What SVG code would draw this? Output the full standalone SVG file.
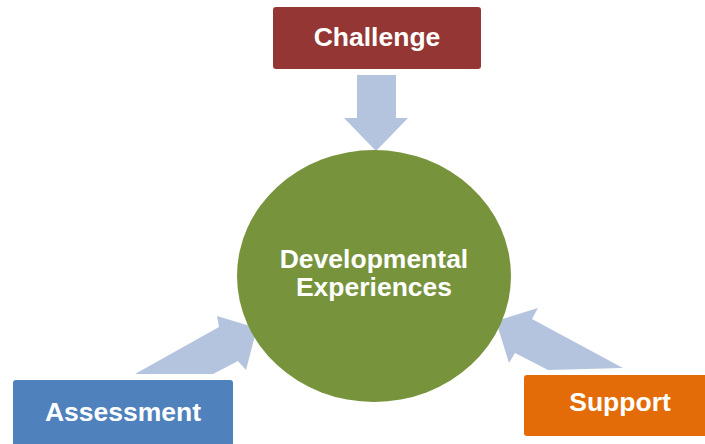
<svg xmlns="http://www.w3.org/2000/svg" width="705" height="444" viewBox="0 0 705 444">
<style>
.lbl{font-family:"Liberation Sans",Arial,sans-serif;font-weight:bold;font-size:26.5px;fill:#ffffff;text-anchor:middle}
.arr{fill:#b4c4de}
</style>
<rect width="705" height="444" fill="#ffffff"/>
<g id="connectors">
<polygon class="arr" points="357,75 396,75 396,118 408,118 376,151 344,118 357,118"/>
<polygon class="arr" points="135,374 219,327 217,316 257,328 246,370 238,361 213,374"/>
<polygon class="arr" points="496,321 538,308 532,319 623,368 548,370 515,353 509,363"/>
</g>
<g id="center">
<ellipse cx="374" cy="276" rx="137" ry="126" fill="#77933c"/>
<text class="lbl"><tspan x="374" y="268">Developmental</tspan><tspan x="374" y="296">Experiences</tspan></text>
</g>
<g id="challenge">
<rect x="273" y="7" width="208" height="62" rx="3" fill="#943634"/>
<text class="lbl" x="377" y="46">Challenge</text>
</g>
<g id="assessment">
<rect x="13" y="380" width="220" height="72" rx="3" fill="#4f81bd"/>
<text class="lbl" x="123" y="421">Assessment</text>
</g>
<g id="support">
<rect x="524" y="375" width="195" height="61" rx="3" fill="#e36c09"/>
<text class="lbl" x="620" y="411">Support</text>
</g>
</svg>
